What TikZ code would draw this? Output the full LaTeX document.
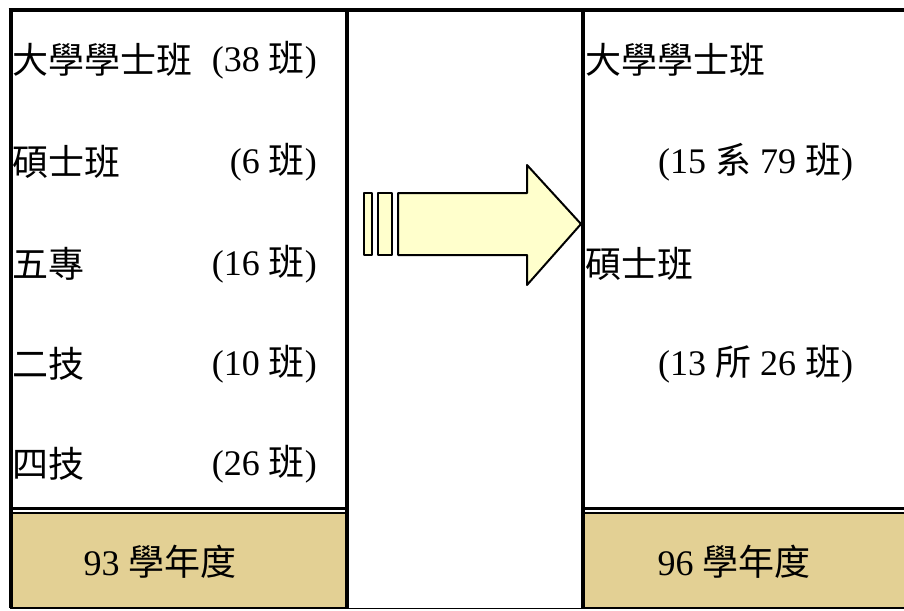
\documentclass[tikz,border=0pt]{standalone}
\usepackage{fontspec}
\setmainfont{Liberation Serif}
\newfontfamily\cjk{Noto Sans CJK TC}
\usetikzlibrary{positioning}
\definecolor{tanFill}{RGB}{227,208,148}
\definecolor{arrowFill}{RGB}{255,255,204}
\newcommand{\zh}[1]{{\cjk #1}}
\tikzstyle{colBox} = [rectangle, draw=black, line width=2.5pt, anchor=north west, inner sep=0pt, outer sep=0pt]
\tikzstyle{yearBox} = [colBox, line width=1.2pt, fill=tanFill]
\tikzstyle{midBox} = [colBox, line width=1.2pt]
\tikzstyle{rowText} = [inner sep=0pt, font=\fontsize{36}{42}\selectfont]
\tikzstyle{labelL} = [rowText, anchor=west]
\tikzstyle{countR} = [rowText, anchor=east]
\tikzstyle{frameLine} = [line width=4pt, draw=black]
\tikzstyle{arrowShape} = [line width=2pt, draw=black, fill=arrowFill, line join=round]

\begin{document}
\begin{tikzpicture}[x=1pt, y=-1pt]
        \useasboundingbox (0,0) rectangle (904,610);
        % columns
        \node (oldBox) [colBox, minimum width=336, minimum height=498] at (10.5,10.5) {};
        \node (oldYear) [yearBox, minimum width=336, minimum height=95] at (10.5,513) {};
        \node (midCol) [midBox, minimum width=236.5, minimum height=598] at (346.5,10.5) {};
        \node (newBox) [colBox, minimum width=340, minimum height=498] at (583,10.5) {};
        \node (newYear) [yearBox, minimum width=340, minimum height=95] at (583,513) {};

        \draw [frameLine] (oldBox.north west) -- (oldYear.south west);
        \draw [frameLine] (oldBox.north east) -- (oldYear.south east);
        \draw [frameLine] (newBox.north west) -- (newYear.south west);
        \draw [frameLine] ([xshift=-2pt]oldBox.north west) -- (newBox.north east);

        % 93
        \node (oldA) [labelL] at (12,60) {\zh{大學學士班}};
        \node (oldB) [labelL] at (12,162) {\zh{碩士班}};
        \node (oldC) [labelL] at (12,264) {\zh{五專}};
        \node (oldD) [labelL] at (12,364) {\zh{二技}};
        \node (oldE) [labelL] at (12,464) {\zh{四技}};
        \node (oldAn) [countR] at (317,60) {(38 \zh{班})};
        \node (oldBn) [countR] at (317,162) {(6 \zh{班})};
        \node (oldCn) [countR] at (317,264) {(16 \zh{班})};
        \node (oldDn) [countR] at (317,364) {(10 \zh{班})};
        \node (oldEn) [countR] at (317,464) {(26 \zh{班})};
        \node (oldYr) [rowText] at (160,562) {93 \zh{學年度}};

        % 96
        \node (newA) [labelL] at (585,60) {\zh{大學學士班}};
        \node (newAn) [labelL] at (658,162) {(15 \zh{系} 79 \zh{班})};
        \node (newB) [labelL] at (585,264) {\zh{碩士班}};
        \node (newBn) [labelL] at (658,364) {(13 \zh{所} 26 \zh{班})};
        \node (newYr) [rowText] at (734,562) {96 \zh{學年度}};

        % arrow
        \draw [arrowShape] (364,193) rectangle (372,255);
        \draw [arrowShape] (378,193) rectangle (392,255);
        \draw [arrowShape] (398,193) -- (527,193) -- (527,165) -- (581,224) -- (527,285) -- (527,255) -- (398,255) -- cycle;
    \end{tikzpicture}
\end{document}
